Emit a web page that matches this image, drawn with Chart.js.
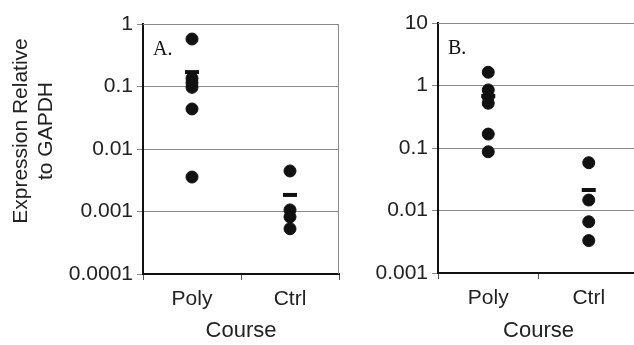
<!DOCTYPE html>
<html>
<head>
<meta charset="utf-8">
<script src="https://cdn.jsdelivr.net/npm/chart.js@4/dist/chart.umd.min.js"></script>
<style>
  html, body { margin:0; padding:0; background:#fff; overflow:hidden; width:634px; height:345px; }
  canvas { position:absolute; top:0; }
  #cA { left:0; }
  #cB { left:355px; }
</style>
</head>
<body>
<canvas id="cA" width="350" height="345"></canvas>
<canvas id="cB" width="295" height="345"></canvas>
<script>
// ---- data ----
const categories = ['Poly', 'Ctrl'];
const panelA_Poly = [0.575, 0.135, 0.115, 0.097, 0.0437, 0.00356];
const panelA_Ctrl = [0.00445, 0.00106, 0.00082, 0.00053];
const panelA_Mean = [0.17, 0.00184];
const panelB_Poly = [1.63, 0.85, 0.66, 0.52, 0.167, 0.087];
const panelB_Ctrl = [0.0582, 0.0147, 0.0066, 0.0033];
const panelB_Mean = [0.68, 0.0213];
const panelA_YTicks = [0.0001, 0.001, 0.01, 0.1, 1];
const panelB_YTicks = [0.001, 0.01, 0.1, 1, 10];
const yTitle = ['Expression Relative', 'to GAPDH'];
const xTitle = 'Course';

const SANS = "'Liberation Sans', Arial, sans-serif";
const TEXT = '#222';

function pts(cat, arr) { return arr.map(v => ({ x: cat, y: v })); }

const framePlugin = {
  id: 'frame',
  beforeDatasetsDraw(chart, args, opts) {
    const a = chart.chartArea, ctx = chart.ctx;
    ctx.save();
    ctx.strokeStyle = '#8a8a8a';
    ctx.lineWidth = 1;
    ctx.beginPath();
    ctx.moveTo(a.left, a.top + 0.5);
    ctx.lineTo(a.right - 0.5, a.top + 0.5);
    ctx.lineTo(a.right - 0.5, a.bottom);
    ctx.stroke();
    ctx.fillStyle = '#111';
    ctx.font = "20px 'Liberation Serif', 'Times New Roman', serif";
    ctx.textBaseline = 'alphabetic';
    ctx.fillText(opts.label, a.left + 10, a.top + 31);
    if (opts.yTitle) {
      ctx.fillStyle = TEXT;
      ctx.font = "21px " + SANS;
      ctx.textAlign = 'center';
      ctx.textBaseline = 'middle';
      const cy = (a.top + a.bottom) / 2 - 18;
      opts.yTitle.forEach((line, i) => {
        ctx.save();
        ctx.translate(21 + i * 25, cy);
        ctx.rotate(-Math.PI / 2);
        ctx.fillText(line, 0, 0);
        ctx.restore();
      });
    }
    ctx.restore();
  }
};

function makeChart(id, poly, ctrl, mean, yTicks, label, pad, yWidth, title) {
  return new Chart(document.getElementById(id), {
    type: 'line',
    data: {
      labels: categories,
      datasets: [
        { data: pts('Poly', poly).concat(pts('Ctrl', ctrl)), showLine: false,
          pointRadius: 6, pointHoverRadius: 6, pointBackgroundColor: '#111',
          pointBorderColor: '#111', pointBorderWidth: 1 },
        { data: categories.map((c, i) => ({ x: c, y: mean[i] })), showLine: false,
          pointStyle: 'line', pointRadius: 7, pointHoverRadius: 7,
          pointBorderColor: '#111', pointBorderWidth: 4 }
      ]
    },
    options: {
      responsive: false, animation: false, devicePixelRatio: 1,
      layout: { padding: pad },
      plugins: { legend: { display: false }, tooltip: { enabled: false }, frame: { label, yTitle: title } },
      scales: {
        x: {
          type: 'category', offset: true,
          grid: { offset: true, drawOnChartArea: false, tickLength: 6, color: '#555' },
          border: { color: '#111', width: 2 },
          ticks: { font: { family: SANS, size: 21 }, color: TEXT, padding: 7 },
          title: { display: true, text: xTitle, font: { family: SANS, size: 22 }, color: TEXT, padding: { top: 0, bottom: 1 } },
          afterFit: s => { s.height = 345 - pad.top - 250; }
        },
        y: {
          type: 'logarithmic', min: yTicks[0], max: yTicks[yTicks.length - 1],
          afterBuildTicks: s => { s.ticks = yTicks.map(v => ({ value: v })); },
          grid: { color: '#8a8a8a', lineWidth: 1, tickLength: 6 },
          border: { color: '#111', width: 2 },
          ticks: { font: { family: SANS, size: 21 }, color: TEXT, padding: 4, callback: v => String(v) },
          afterFit: s => { s.width = yWidth; }
        }
      }
    },
    plugins: [framePlugin]
  });
}

makeChart('cA', panelA_Poly, panelA_Ctrl, panelA_Mean, panelA_YTicks, 'A.',
  { top: 24, right: 7, left: 0, bottom: 0 }, 143, yTitle);
makeChart('cB', panelB_Poly, panelB_Ctrl, panelB_Mean, panelB_YTicks, 'B.',
  { top: 23, right: 6, left: 0, bottom: 0 }, 83, null);
</script>
</body>
</html>
